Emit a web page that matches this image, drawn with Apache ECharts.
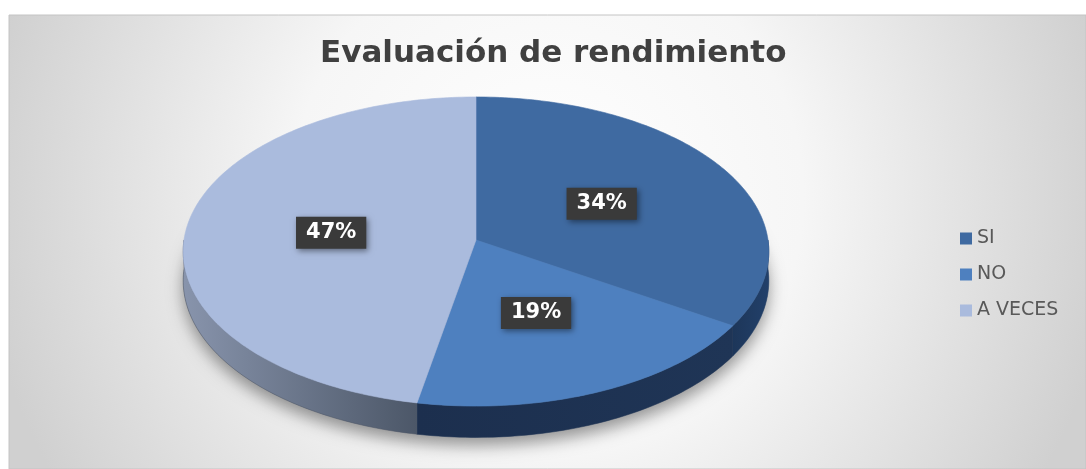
<!DOCTYPE html>
<html>
<head>
<meta charset="utf-8">
<script src="https://cdn.jsdelivr.net/npm/echarts@6/dist/echarts.min.js"></script>
<style>
  html, body { margin: 0; padding: 0; background: #ffffff; }
  #main { width: 1086px; height: 469px; }
</style>
</head>
<body>
<div id="main"></div>
<script>
// datos
const categories = ['SI', 'NO', 'A VECES'];
const values = [34, 19, 47];
const titleText = 'Evaluación de rendimiento';

// colores (cara superior y lateral)
const topColors = ['#3f6aa1', '#4e80bf', '#aabbdd'];
const sideColors = [['#1d3659', '#22406a'], ['#1c2f4e', '#1f3556'], ['#8894ac', '#4c5768']];

// geometria del pastel 3D (perspectiva simple)
const CX = 476, CY = 240, RX = 292, RY = 153.7, PERSP = 0.0745, DEPTH = 29;

const total = values.reduce((a, b) => a + b, 0);

function project(theta, f, drop) {
  const u = f * Math.sin(theta), v = f * Math.cos(theta);
  const s = 1 + PERSP * v;
  return [CX + RX * u / s, CY - RY * v / s + (drop ? DEPTH / s : 0)];
}

function arc(a0, a1, drop) {
  const n = Math.max(2, Math.ceil((a1 - a0) / (Math.PI / 180)));
  const pts = [];
  for (let k = 0; k <= n; k++) {
    pts.push(project(a0 + (a1 - a0) * k / n, 1, drop));
  }
  return pts;
}

function renderSlice(params, api) {
  const i = params.dataIndex;
  let before = 0;
  for (let k = 0; k < i; k++) before += values[k];
  const a0 = before / total * Math.PI * 2;
  const a1 = (before + api.value(0)) / total * Math.PI * 2;
  const children = [];

  // sombra bajo el pastel
  if (i === 0) {
    children.push({
      type: 'polygon',
      z2: -1,
      shape: { points: arc(0, Math.PI * 2, true) },
      style: {
        fill: '#8a8a8a',
        shadowBlur: 16,
        shadowColor: 'rgba(0,0,0,0.4)',
        shadowOffsetY: 8
      }
    });
  }

  // pared lateral visible (mitad delantera)
  const s0 = Math.max(a0, Math.PI / 2), s1 = Math.min(a1, Math.PI * 1.5);
  if (s1 > s0) {
    const pts = arc(s0, s1, false).concat(arc(s0, s1, true).reverse());
    children.push({
      type: 'polygon',
      z2: 1,
      shape: { points: pts },
      style: {
        fill: new echarts.graphic.LinearGradient(0, 0, 1, 0, [
          { offset: 0, color: sideColors[i][0] },
          { offset: 1, color: sideColors[i][1] }
        ]),
        stroke: sideColors[i][1],
        lineWidth: 0.5
      }
    });
  }

  // cara superior
  children.push({
    type: 'polygon',
    z2: 10,
    shape: { points: [project(0, 0, false)].concat(arc(a0, a1, false)) },
    style: { fill: topColors[i], stroke: topColors[i], lineWidth: 0.6 }
  });

  // etiqueta de porcentaje
  const mid = (a0 + a1) / 2;
  const p = project(mid, 0.5, false);
  children.push({
    type: 'text',
    z2: 20,
    x: p[0],
    y: p[1],
    style: {
      text: Math.round(api.value(0) / total * 100) + '%',
      fill: '#ffffff',
      fontFamily: 'DejaVu Sans',
      fontWeight: 'bold',
      fontSize: 21,
      lineHeight: 22,
      align: 'center',
      verticalAlign: 'middle',
      backgroundColor: '#3a3a3a',
      padding: [5, 10, 5, 10],
      shadowBlur: 6,
      shadowColor: 'rgba(0,0,0,0.45)',
      shadowOffsetX: 2,
      shadowOffsetY: 2
    }
  });

  return { type: 'group', children: children };
}

const chart = echarts.init(document.getElementById('main'));

chart.setOption({
  animation: false,
  graphic: [{
    type: 'rect',
    z: -10,
    silent: true,
    shape: { x: 9, y: 15, width: 1077, height: 454 },
    style: {
      fill: new echarts.graphic.RadialGradient(0.5, 0.4, 1.25, [
        { offset: 0, color: '#ffffff' },
        { offset: 0.45, color: '#f6f6f6' },
        { offset: 1, color: '#d0d0d0' }
      ]),
      stroke: '#c4c4c4',
      lineWidth: 1
    }
  }],
  title: {
    text: titleText,
    left: 315,
    top: 33,
    padding: 5,
    textStyle: {
      fontFamily: 'DejaVu Sans',
      fontSize: 31,
      fontWeight: 'bold',
      color: '#404040'
    }
  },
  legend: {
    orient: 'vertical',
    left: 955,
    top: 224,
    icon: 'rect',
    itemWidth: 12,
    itemHeight: 12,
    itemGap: 17,
    selectedMode: false,
    data: categories,
    textStyle: {
      fontFamily: 'DejaVu Sans',
      fontSize: 19,
      lineHeight: 18,
      color: '#595959'
    }
  },
  series: [
    {
      // solo para la leyenda
      type: 'pie',
      radius: [0, 0],
      center: [-50, -50],
      silent: true,
      label: { show: false },
      labelLine: { show: false },
      color: topColors,
      data: categories.map((c, i) => ({ name: c, value: values[i] }))
    },
    {
      type: 'custom',
      coordinateSystem: 'none',
      silent: true,
      renderItem: renderSlice,
      data: categories.map((c, i) => ({ name: c, value: [values[i]] }))
    }
  ]
});
</script>
</body>
</html>
